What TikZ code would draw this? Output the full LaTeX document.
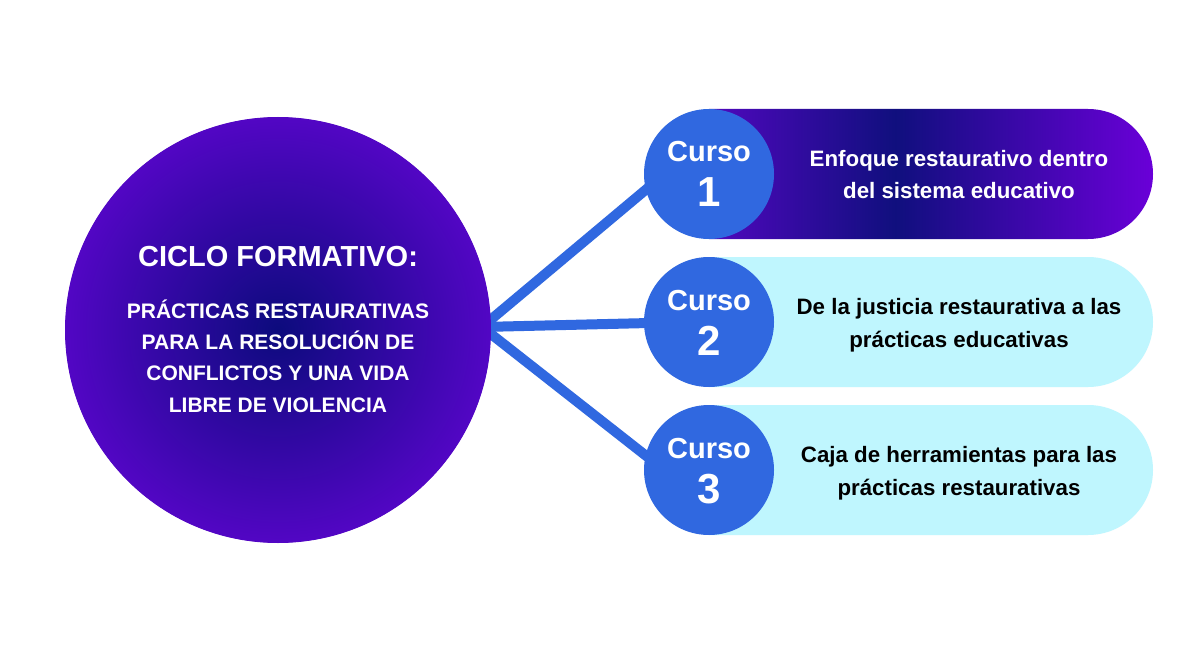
\documentclass[tikz,border=0pt]{standalone}
\usepackage{fontspec}
\setmainfont{Liberation Sans}
\usetikzlibrary{calc}
\definecolor{cnavy}{HTML}{0C0B7D}
\definecolor{cpurple}{HTML}{5206C4}
\definecolor{pA}{HTML}{5008BE}
\definecolor{pB}{HTML}{100F7E}
\definecolor{pC}{HTML}{6A00D8}
\definecolor{cblue}{HTML}{3068E0}
\definecolor{ccyan}{HTML}{BFF6FE}
\pgfdeclareradialshading{bigshade}{\pgfpoint{0bp}{0bp}}{color(0bp)=(cnavy); color(25bp)=(cpurple); color(50bp)=(cpurple)}
\pgfdeclarehorizontalshading{pillshade}{100bp}{color(0bp)=(pA); color(25bp)=(pA); color(46bp)=(pB); color(75bp)=(pC); color(100bp)=(pC)}
\pgfdeclarelayer{back}
\pgfdeclarelayer{bg}
\pgfsetlayers{back,bg,main}
\begin{document}
\begin{tikzpicture}[x=1pt,y=1pt,
  cursocirc/.style={circle, fill=cblue, minimum size=130pt, inner sep=0pt},
  cursofont/.style={anchor=base, inner sep=0pt, text=white, font=\fontsize{29}{34}\selectfont\bfseries},
  numfont/.style={anchor=base, inner sep=0pt, text=white, font=\fontsize{42}{48}\selectfont\bfseries},
  pilltext/.style={anchor=base, inner sep=0pt, font=\fontsize{22.3}{32}\selectfont\bfseries},
  titlefont/.style={anchor=base, inner sep=0pt, text=white, font=\fontsize{29}{34}\selectfont\bfseries},
  subfont/.style={anchor=base, inner sep=0pt, text=white, font=\fontsize{21}{31}\selectfont\bfseries},
  conn/.style={draw=cblue, line width=10pt}
]
\begin{pgfonlayer}{back}
\fill[white] (0,0) rectangle (1200,-650);
\end{pgfonlayer}
\useasboundingbox (0,0) rectangle (1200,-650);

% big circle
\node[circle, minimum size=426pt, inner sep=0pt, fill=cpurple] (big) at (278,-330) {};
\shade[shading=bigshade] (big.center) circle[radius=212.6pt];
\node[titlefont] (title) at (278,-266) {CICLO FORMATIVO:};
\node[subfont] (s1) at (278,-318) {PRÁCTICAS RESTAURATIVAS};
\node[subfont] (s2) at (278,-349) {PARA LA RESOLUCIÓN DE};
\node[subfont] (s3) at (278,-380) {CONFLICTOS Y UNA VIDA};
\node[subfont] (s4) at (278,-412) {LIBRE DE VIOLENCIA};

% pills
\shade[shading=pillshade] (709,-109) -- (1088,-109) arc[start angle=90,end angle=-90,radius=65pt] -- (709,-239) -- cycle;
\fill[ccyan] (709,-257) -- (1088,-257) arc[start angle=90,end angle=-90,radius=65pt] -- (709,-387) -- cycle;
\fill[ccyan] (709,-405) -- (1088,-405) arc[start angle=90,end angle=-90,radius=65pt] -- (709,-535) -- cycle;

% curso circles
\node[cursocirc] (c1) at (709,-174) {};
\node[cursocirc] (c2) at (709,-322) {};
\node[cursocirc] (c3) at (709,-470) {};
\node[cursofont] (k1) at (709,-162) {Curso};
\node[numfont] (n1) at (709,-207) {1};
\node[cursofont] (k2) at (709,-310) {Curso};
\node[numfont] (n2) at (709,-355) {2};
\node[cursofont] (k3) at (709,-458) {Curso};
\node[numfont] (n3) at (709,-503) {3};

% pill texts
\node[pilltext, text=white] (t1a) at (959,-166.7) {Enfoque restaurativo dentro};
\node[pilltext, text=white] (t1b) at (959,-199) {del sistema educativo};
\node[pilltext, text=black] (t2a) at (959,-314.7) {De la justicia restaurativa a las};
\node[pilltext, text=black] (t2b) at (959,-347) {prácticas educativas};
\node[pilltext, text=black] (t3a) at (959,-462.7) {Caja de herramientas para las};
\node[pilltext, text=black] (t3b) at (959,-495) {prácticas restaurativas};

% connectors
\coordinate (j) at (482,-327);
\begin{pgfonlayer}{bg}
\draw[conn] (j) -- ($(j)!1.06!(c1.194)$);
\draw[conn] (j) -- ($(j)!1.06!(c2.181)$);
\draw[conn] (j) -- ($(j)!1.06!(c3.167)$);
\end{pgfonlayer}
\end{tikzpicture}
\end{document}
